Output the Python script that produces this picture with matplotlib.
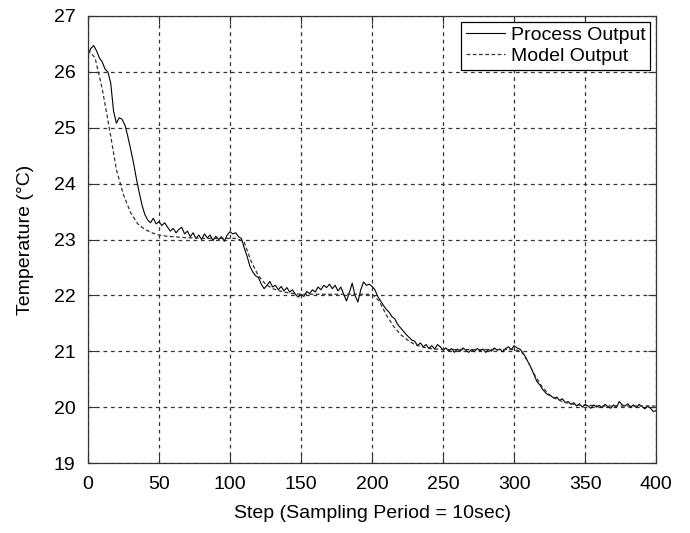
import numpy as np
import matplotlib.pyplot as plt

plt.rcParams['font.family'] = ['Liberation Sans', 'DejaVu Sans']

# process output, read every 2 steps
proc_step = np.arange(0, 401, 2)
proc_temp = [
    26.30, 26.42, 26.47, 26.38, 26.25, 26.18, 26.05, 26.00, 25.80, 25.30,
    25.08, 25.18, 25.15, 25.05, 24.85, 24.62, 24.38, 24.10, 23.85, 23.62,
    23.45, 23.35, 23.30, 23.38, 23.28, 23.32, 23.25, 23.30, 23.22, 23.15,
    23.20, 23.12, 23.18, 23.22, 23.10, 23.15, 23.05, 23.12, 23.02, 23.08,
    23.00, 23.10, 23.03, 23.08, 22.98, 23.06, 23.00, 23.05, 22.97, 23.08,
    23.14, 23.10, 23.12, 23.05, 23.02, 22.85, 22.70, 22.52, 22.42, 22.35,
    22.32, 22.20, 22.12, 22.18, 22.25, 22.15, 22.18, 22.10, 22.16, 22.08,
    22.14, 22.06, 22.10, 22.02, 21.97, 22.02, 21.98, 22.07, 22.03, 22.10,
    22.06, 22.15, 22.10, 22.18, 22.14, 22.20, 22.12, 22.18, 22.08, 22.15,
    22.02, 21.90, 22.05, 22.22, 22.00, 21.88, 22.10, 22.24, 22.18, 22.20,
    22.16, 22.10, 21.98, 21.90, 21.82, 21.75, 21.70, 21.62, 21.58, 21.48,
    21.42, 21.36, 21.30, 21.25, 21.20, 21.18, 21.10, 21.15, 21.08, 21.12,
    21.05, 21.10, 21.04, 21.12, 21.08, 21.02, 21.06, 21.00, 21.05, 20.98,
    21.04, 21.00, 21.06, 21.02, 20.98, 21.03, 20.99, 21.05, 21.01, 21.04,
    20.98, 21.03, 21.00, 21.06, 21.02, 21.04, 20.99, 21.05, 21.08, 21.03,
    21.10, 21.06, 21.04, 20.98, 20.90, 20.80, 20.70, 20.58, 20.46, 20.40,
    20.32, 20.26, 20.22, 20.20, 20.16, 20.18, 20.12, 20.15, 20.08, 20.10,
    20.05, 20.08, 20.02, 20.06, 20.00, 20.05, 20.02, 19.98, 20.04, 20.00,
    20.03, 19.99, 20.05, 20.01, 19.98, 20.04, 20.00, 20.10, 20.04, 20.02,
    20.06, 20.00, 20.04, 19.99, 20.05, 20.01, 19.97, 20.02, 19.98, 19.92,
    19.94,
]

# model output, read every 5 steps
model_step = np.arange(0, 401, 5)
model_temp = [
    26.40, 26.25, 25.70, 25.00, 24.25, 23.80, 23.48, 23.28, 23.18, 23.12,
    23.08, 23.06, 23.05, 23.04, 23.03, 23.03, 23.02, 23.02, 23.02, 23.02,
    23.02, 23.02, 22.95, 22.60, 22.35, 22.20, 22.12, 22.08, 22.05, 22.03,
    22.02, 22.02, 22.02, 22.02, 22.02, 22.02, 22.02, 22.02, 22.02, 22.02,
    22.02, 21.90, 21.65, 21.45, 21.30, 21.20, 21.12, 21.08, 21.05, 21.04,
    21.03, 21.03, 21.03, 21.03, 21.03, 21.03, 21.03, 21.03, 21.03, 21.03,
    21.03, 21.00, 20.80, 20.55, 20.35, 20.22, 20.14, 20.09, 20.06, 20.04,
    20.03, 20.03, 20.02, 20.02, 20.02, 20.02, 20.02, 20.02, 20.02, 20.02,
    20.02,
]

fig = plt.figure(figsize=(6.9, 5.33), dpi=100)
ax = fig.add_axes([0.1275, 0.1313, 0.8235, 0.8387])

ax.plot(proc_step, proc_temp, color='black', lw=0.8, label='Process Output')
ax.plot(model_step, model_temp, color='#333333', lw=0.9, linestyle=(0, (3, 2)),
        label='Model Output')

ax.set_xlim(0, 400)
ax.set_ylim(19, 27)
ax.set_xticks(np.arange(0, 401, 50))
ax.set_yticks(np.arange(19, 28, 1))
ax.tick_params(direction='in', top=True, right=True, labelsize=14, length=6,
               pad=9, color='#333333')
ax.grid(True, color='#333333', linestyle=(0, (3, 3)), lw=0.9)
for s in ax.spines.values():
    s.set_linewidth(0.9)
    s.set_color('#333333')

ax.set_xlabel('Step (Sampling Period = 10sec)', fontsize=14, labelpad=9)
ax.set_ylabel('Temperature (°C)', fontsize=14, labelpad=14)

leg = ax.legend(loc='upper right', fontsize=14, fancybox=False, framealpha=1,
                edgecolor='black', borderaxespad=0.3, handlelength=2.0,
                borderpad=0.25, labelspacing=0.15, handletextpad=0.3)
leg.get_frame().set_linewidth(0.9)

fig.savefig('out.png', dpi=100)
